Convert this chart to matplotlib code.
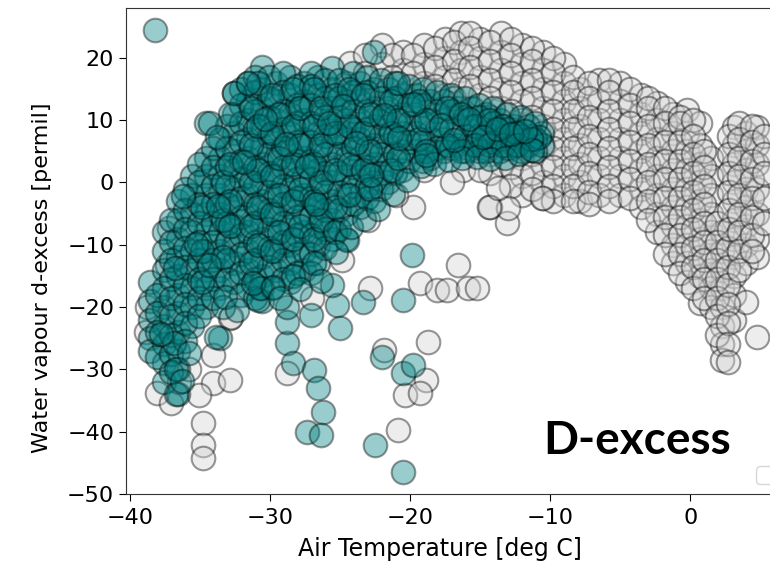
import matplotlib
matplotlib.use("Agg")
import matplotlib.pyplot as plt

grey_cols_x = [-24.3, -22.0, -20.5, -19.0, -17.5, -16.4, -15.0, -13.5, -12.0, -10.5,
               -9.0, -7.9, -6.5, -5.0, -3.5, -2.4, -1.2, -0.2, 0.7, 1.5, 2.3, 3.1, 4.0, 4.8]
grey_cols_y = [
    [19.2],
    [22, 19],
    [21, 18],
    [22, 19, 16],
    [23, 20, 17, 14],
    [24, 21, 18, 15],
    [23, 20, 17, 14],
    [24, 21, 18, 15, 12, 9, 6, 3],
    [22, 19, 16, 13, 10, 7, 4, 1, -2],
    [21, 18, 15, 12, 9, 6, 3, 0, -2.5],
    [19, 16, 13, 10, 7, 4, 1, -2],
    [15, 12, 9, 6, 3, 0, -3],
    [16.5, 13, 10, 7, 4, 1, -2],
    [16, 13, 10, 7, 4, 1, -2],
    [14, 11, 8, 5, 2, -1, -4],
    [12.8, 10, 7, 4, 1, -2, -5, -8],
    [11, 8, 5, 2, -1, -4, -7, -10, -13],
    [11.7, 8, 5, 2, -1, -4, -7, -10, -13, -16],
    [9.6, 6, 3, 0, -3, -6, -9, -12, -15, -19.3],
    [4, 1, -2, -5, -8, -11, -14, -17, -20],
    [-8, -11, -14, -17, -20, -23, -26, -28.5],
    [8.9, 6, 3, 0, -3, -6, -9, -12, -15, -18, -22],
    [8, 5, 2, -1, -4, -7, -10, -13, -19.2],
    [8.9, 6, 3, -1, -5, -9, -12, -24.8],
]
grey_cols2_x = [-23.2, -21.3, -19.8, -18.2, -16.9, -15.7, -14.3, -12.8, -11.3, -9.8,
                -8.4, -7.2, -5.8, -4.3, -3.0, -1.8, -0.7, 0.2, 1.0, 1.9, 2.7, 2.8,
                3.5, 4.4, 5.3]
grey_cols2_y = [
    [20.5, 17.5],
    [20.5, 17],
    [20.5, 17.5],
    [21.5, 18.5, 15.5],
    [22.5, 19.5, 16.5, 13.5],
    [24, 21.5, 18.5, 15.5],
    [22.5, 19.5, 16.5, 13.5, 10.5, 7.5, 4.5, 1.5],
    [23, 20.5, 17.5, 14.5, 11.5, 8.5, 5.5, 2.5, -0.5],
    [21.5, 19.5, 16.5, 13.5, 10.5, 7.5, 4.5, 1.5, -1],
    [20, 17.5, 14.5, 11.5, 8.5, 5.5, 2.5, -0.5, -3],
    [17, 14.5, 11.5, 8.5, 5.5, 2.5, -0.5, -3],
    [16, 13.5, 10.5, 7.5, 4.5, 1.5, -1.5, -3.5],
    [16.5, 14.5, 11.5, 8.5, 5.5, 2.5, -0.5, -3],
    [15, 12.5, 9.5, 6.5, 3.5, 0.5, -2.5],
    [13.5, 12, 9, 6, 3, 0, -3, -6],
    [12, 9.5, 6.5, 3.5, 0.5, -2.5, -5.5, -8.5, -11.5],
    [10.5, 9.5, 6.5, 3.5, 0.5, -2.5, -5.5, -8.5, -11.5, -14.5],
    [10, 7.5, 4.5, 1.5, -1.5, -4.5, -7.5, -10.5, -13.5, -17],
    [5, 2.5, -0.5, -3.5, -6.5, -9.5, -12.5, -15.5, -18.5],
    [-6.5, -9.5, -12.5, -15.5, -18.5, -21.5, -24.5],
    [-10.5, -13.5, -16.5, -19.5, -22.5, -26, -28.8],
    [7.5, 4.5, 1.5, -1.5, -4.5, -7.5],
    [9.5, 7, 4, 1, -2, -5, -8, -11, -14],
    [9, 6.5, 3.5, 0.5, -2.5, -5.5, -8.5, -11],
    [7.5, 4.5, 1.5, -2.5, -6.5],
]
grey_extra_x = [-38.1, -34.8, -34.8, -34.8, -32.9, -34.1, -34.1, -32.9, -35.1, -37.1,
                -37.2, -37.4, -32.8, -38.8, -38.9, -36.5, -35.8,
                -16.6, -19.3, -18.1, -17.4, -15.9, -15.2, -22.9, -18.7, -21.9, -18.9,
                -20.4, -19.3, -20.9, -28.8, -27.0, -24.9, -14.3, -13.1, -19.8, -10.6,
                -13.0, -14.4, -13.7, -16.2,
                -28, -25, -22, -19, -17, -15, -21, -23, -26, -29, -31, -33, -30]
grey_extra_y = [-33.8, -38.6, -42.1, -44.2, -21.7, -27.7, -32.2, -31.7, -34.1, -35.4,
                -7.3, -13.2, -21.6, -20, -24, -32, -30,
                -13.2, -16.1, -17.2, -17.2, -16.9, -16.9, -16.9, -25.6, -26.9, -31.7,
                -34.1, -33.8, -39.7, -30.6, -18.5, -12.4, -3.9, -6.5, -3.9, -2.5,
                -4.1, -3.9, -0.9, 2.0,
                12, 8, 5, 2, 0, 2, -2, -6, -8, -10, -4, -9, 5]

# teal: the selected subset
teal_cols_x = [-38.6, -37.6, -36.6, -35.6, -34.6, -33.6, -32.6, -31.6, -30.6, -29.6,
               -28.6, -27.6, -26.6, -25.6, -24.6, -23.6, -22.6, -21.6, -20.6, -19.6,
               -18.6, -17.6, -16.6, -15.6, -14.6, -13.6, -12.6, -11.6, -10.6]
teal_cols_y = [
    [-16, -19, -22, -25, -27],
    [-8, -11, -14, -17, -20, -23, -26, -29, -32],
    [-3, -6, -9, -12, -15, -18, -21, -24, -27, -30, -34],
    [1, -2, -5, -8, -11, -14, -17, -20, -23],
    [9.6, 4, 1, -2, -5, -8, -11, -14, -17, -20],
    [7, 4, 1, -2, -5, -8, -11, -14, -17, -25],
    [14.4, 11, 8, 5, 2, -1, -4, -7, -10, -13, -16],
    [16, 13, 10, 7, 4, 1, -2, -5, -8, -11, -14, -17],
    [18.6, 15, 12, 9, 6, 3, 0, -3, -6, -9, -12, -15, -17, -19],
    [16, 13, 10, 7, 4, 1, -2, -5, -8, -11, -14],
    [17, 14, 11, 8, 5, 2, -1, -4, -7, -10, -13, -16],
    [16, 13, 10, 7, 4, 1, -2, -5, -8, -11, -14],
    [17, 14, 11, 8, 5, 2, -1, -4, -7, -10, -13],
    [18.4, 15, 12, 9, 6, 3, 0, -3, -6, -9],
    [16, 13, 10, 7, 4, 1, -2, -5, -9],
    [16, 13, 10, 7, 4, 1, -2, -4],
    [21, 15, 12, 9, 6, 3, 0, -3],
    [15, 12, 9, 6, 3, 0],
    [14, 11, 8, 5, 2],
    [14, 11, 8, 5],
    [13, 10, 7, 4],
    [13, 10, 7, 5],
    [12, 9, 6],
    [12, 9, 6],
    [11, 8, 5],
    [10, 7, 5],
    [9, 6],
    [9, 6],
    [8, 6],
]
teal_cols2_x = [-38.1, -37.1, -36.1, -35.1, -34.1, -33.1, -32.1, -31.1, -30.1, -29.1,
                -28.1, -27.1, -26.1, -25.1, -24.1, -23.1, -22.1, -21.1, -20.1, -19.1,
                -18.1, -17.1, -16.1, -15.1, -14.1, -13.1, -12.1, -11.1, -10.8]
teal_cols2_y = [
    [-18, -21, -24, -28],
    [-6, -9.5, -12.5, -15.5, -18.5, -21.5, -24.5, -27.5, -30.5],
    [-1, -4.5, -7.5, -10.5, -13.5, -16.5, -19.5, -22.5, -25.5],
    [3, 0, -3.5, -6.5, -9.5, -12.5, -15.5, -18.5, -21.5],
    [5.5, 2.5, -0.5, -3.5, -6.5, -9.5, -12.5, -15.5, -18.5],
    [9, 5.5, 2.5, -0.5, -3.5, -6.5, -9.5, -12.5, -15.5],
    [15, 12.5, 9.5, 6.5, 3.5, 0.5, -2.5, -5.5, -8.5, -11.5, -14.5, -18],
    [17, 14.5, 11.5, 8.5, 5.5, 2.5, -0.5, -3.5, -6.5, -9.5, -12.5, -15.5, -18.5],
    [17, 13.5, 10.5, 7.5, 4.5, 1.5, -1.5, -4.5, -7.5, -10.5, -13.5],
    [17.5, 14.5, 11.5, 8.5, 5.5, 2.5, -0.5, -3.5, -6.5, -9.5, -12.5, -15.5],
    [15.5, 12.5, 9.5, 6.5, 3.5, 0.5, -2.5, -5.5, -8.5, -11.5, -14.5],
    [17.5, 15.5, 12.5, 9.5, 6.5, 3.5, 0.5, -2.5, -5.5, -8.5, -11.5, -14.5],
    [16.5, 13.5, 10.5, 7.5, 4.5, 1.5, -1.5, -4.5, -7.5, -10.5],
    [16.5, 13.5, 10.5, 7.5, 4.5, 1.5, -1.5, -4.5, -7.5],
    [17.5, 14.5, 11.5, 8.5, 5.5, 2.5, -0.5, -3.5],
    [17, 14.5, 11.5, 8.5, 5.5, 2.5, -0.5, -2.5],
    [16.5, 13.5, 10.5, 7.5, 4.5, 1.5, -1],
    [16, 13.5, 10.5, 7.5, 4.5, 1.5],
    [15.5, 12.5, 9.5, 6.5, 3.5],
    [15, 12.5, 9.5, 6.5, 3.5],
    [14.5, 11.5, 8.5, 5.5],
    [14, 11.5, 8.5, 5.5],
    [13.5, 10.5, 7.5, 5],
    [12.5, 10.5, 7.5, 5],
    [12, 9.5, 6.5],
    [11, 8.5, 5.5],
    [10.5, 7.5, 5],
    [9.5, 7, 5],
    [7.3],
]
teal_cols3_x = [-34.9, -33.4, -32.9, -31.4, -30.9, -29.9, -29.4, -28.4, -27.9, -26.9,
                -26.4, -25.4, -24.4, -23.4, -22.9, -21.4, -20.9, -19.4, -18.9, -17.4,
                -16.4, -15.4, -14.4, -13.4, -12.4, -11.4]
teal_cols3_y = [
    [-4, -11, -16],
    [0, -6, -12, -20],
    [11, 3, -3, -7],
    [12, 6, 0, -7, -13],
    [16, 9, 2, -4, -10],
    [14, 8, 1, -5, -11, -17],
    [11, 4, -2, -8],
    [15, 9, 3, -3, -9, -15],
    [12, 6, -1, -7],
    [15, 9, 3, -3, -9, -13],
    [12, 6, 0, -6],
    [14, 8, 2, -4, -8],
    [15, 9, 3, -2],
    [14, 8, 2],
    [11, 5, -1],
    [13, 8, 2],
    [16, 10, 4],
    [13, 7],
    [10, 5],
    [12, 6],
    [11, 5],
    [9, 6],
    [10, 6],
    [9, 6],
    [8, 6],
    [7],
]
teal_extra_x = [-38.2, -34.3, -33.8, -32.6, -31.6, -36.7, -33.9, -36.9, -36.7,
                -19.9, -20.5, -23.4, -25.2, -25.0, -25.6, -24.5, -27.1, -28.8, -28.8,
                -28.4, -26.9, -26.6, -26.2, -27.4, -26.4, -22.0, -20.5, -19.8, -22.5,
                -20.5, -28.8, -30.9, -30.7,
                -36.2, -35.3, -34.4, -33.2, -32.4, -31.2, -29.8, -29.3, -27.9, -26.4,
                -25.3, -24.2, -23.3, -22.3, -21.2, -20.2, -19.2, -18.3, -17.2, -16.3,
                -15.2, -14.3, -13.2, -12.2, -11.3, -33.7, -31.9, -30.4, -28.9, -27.4,
                -26.7, -25.8, -24.8, -23.9, -22.8, -21.9, -20.8, -19.8, -18.9, -17.8,
                -16.9, -15.8, -14.8, -13.8, -12.8, -11.8, -36.8, -37.8, -35.8, -36.3]
teal_extra_y = [24.5, 9.6, 7.3, 14.4, 16.0, -34.0, -24.8, -25.7, -30.0,
                -11.6, -18.8, -19.2, -19.6, -23.3, -16.4, -9.2, -21.3, -25.7, -22.4,
                -29.0, -30.1, -33.0, -36.8, -40.0, -40.5, -28.0, -30.6, -29.3, -42.1,
                -46.5, -20.0, -18.8, -16.9,
                -2.2, -9.8, -13.3, -18.4, -20.4, -16.2, -16.8, -18.6, -17.1, -15.8,
                -11.2, -7.1, -5.8, -4.3, -1.8, 0.4, 2.6, 2.9, 3.6, 3.9,
                4.1, 3.8, 4.0, 4.5, 5.2, -3.8, 3.3, 10.2, 6.1, 2.7,
                -3.4, 9.6, 12.2, 6.3, 1.2, 10.9, 7.2, 12.6, 4.4, 9.2,
                6.8, 10.2, 7.3, 8.6, 7.7, 8.2, -13.7, -24.3, -27.4, -31.8]


def unroll(cols_x, cols_y):
    xs, ys = [], []
    for x, col in zip(cols_x, cols_y):
        for y in col:
            xs.append(x)
            ys.append(y)
    return xs, ys


gx, gy = unroll(grey_cols_x, grey_cols_y)
gx2, gy2 = unroll(grey_cols2_x, grey_cols2_y)
gx += gx2 + grey_extra_x
gy += gy2 + grey_extra_y

tx, ty = unroll(teal_cols_x, teal_cols_y)
tx2, ty2 = unroll(teal_cols2_x, teal_cols2_y)
tx3, ty3 = unroll(teal_cols3_x, teal_cols3_y)
tx += tx2 + tx3 + teal_extra_x
ty += ty2 + ty3 + teal_extra_y

fig = plt.figure(figsize=(7.7, 5.66), dpi=100)
ax = fig.add_axes([0.1636, 0.1272, 0.8494, 0.8587])

ax.scatter(gx, gy, s=290, c="lightgrey", edgecolors="k", linewidths=1.5, alpha=0.4)
ax.scatter(tx, ty, s=290, c="teal", edgecolors="k", linewidths=1.5, alpha=0.4)

ax.set_xlim(-40.3, 6.41)
ax.set_ylim(-50, 28)
ax.set_xticks([-40, -30, -20, -10, 0])
ax.set_yticks([-50, -40, -30, -20, -10, 0, 10, 20])
ax.tick_params(labelsize=16, length=5)
ax.tick_params(axis="x", pad=5)
ax.set_xlabel("Air Temperature [deg C]", fontsize=17)
ax.set_ylabel("Water vapour d-excess [permil]", fontsize=16)
ax.xaxis.set_label_coords(0.48, -0.088)
ax.yaxis.set_label_coords(-0.113, 0.444)
for sp in ax.spines.values():
    sp.set_color("#333333")

# empty legend frame in the lower right corner
ax.legend(handles=[], loc="lower left", bbox_to_anchor=(756 / 770, 82 / 566),
          bbox_transform=fig.transFigure, borderaxespad=0, fontsize=16)

fig.text(0.705, 0.198, "D-excess", fontsize=33, fontweight="bold", family="Lato")

fig.savefig("out.png", dpi=100)
